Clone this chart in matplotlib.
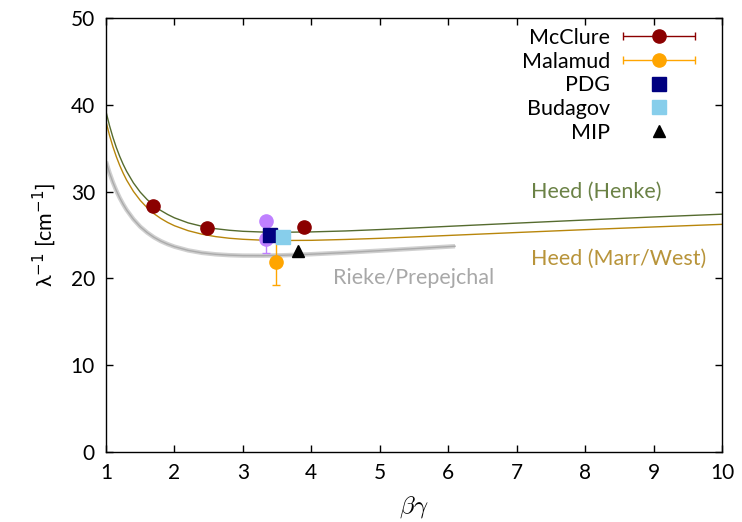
import numpy as np
import matplotlib
matplotlib.use("Agg")
import matplotlib.pyplot as plt
from matplotlib.container import ErrorbarContainer
from matplotlib.legend_handler import HandlerErrorbar

plt.rcParams['font.family'] = ['Lato', 'DejaVu Sans']
plt.rcParams['font.size'] = 15.5

# Heed curves
heed_x = [1.0, 1.05, 1.1, 1.15, 1.2, 1.25, 1.3, 1.4, 1.5, 1.6, 1.7, 1.8, 1.9, 2.0,
          2.2, 2.4, 2.6, 2.8, 3.0, 3.3, 3.6, 4.0, 4.5, 5.0, 5.5, 6.0, 7.0, 8.0, 9.0, 10.0]
henke_y = [39.20, 37.63, 36.27, 35.09, 34.06, 33.15, 32.35, 31.01, 29.94, 29.09,
           28.40, 27.83, 27.37, 26.98, 26.40, 26.01, 25.73, 25.55, 25.43, 25.34,
           25.32, 25.36, 25.47, 25.63, 25.81, 26.00, 26.37, 26.73, 27.08, 27.40]
marr_y = [38.05, 36.51, 35.19, 34.03, 33.02, 32.13, 31.34, 30.03, 28.99, 28.15,
          27.46, 26.91, 26.45, 26.07, 25.50, 25.10, 24.82, 24.63, 24.51, 24.40,
          24.37, 24.39, 24.49, 24.62, 24.78, 24.95, 25.29, 25.62, 25.93, 26.23]

rieke_x = [1.0, 1.05, 1.1, 1.15, 1.2, 1.25, 1.3, 1.4, 1.5, 1.6, 1.7, 1.8, 1.9, 2.0,
           2.2, 2.4, 2.6, 2.8, 3.0, 3.3, 3.6, 4.0, 4.5, 5.0, 5.5, 6.1]
rieke_y = [33.45, 32.18, 31.07, 30.12, 29.28, 28.55, 27.90, 26.82, 25.96, 25.29,
           24.74, 24.30, 23.95, 23.66, 23.23, 22.95, 22.78, 22.68, 22.63, 22.62,
           22.67, 22.79, 22.98, 23.20, 23.43, 23.71]

# measurements
mcclure_x = [1.69, 2.47, 3.89]
mcclure_y = [28.4, 25.8, 25.9]
malamud_x = [3.48]
malamud_y = [21.9]
malamud_err = [2.6]
other_x = [3.34, 3.34]
other_y = [26.6, 24.55]
other_err_lo = [0.0, 1.6]
other_err_hi = [0.0, 0.0]
pdg_x, pdg_y = [3.39], [25.0]
budagov_x, budagov_y = [3.58], [24.8]
mip_x, mip_y = [3.80], [23.15]

fig = plt.figure(figsize=(7.42, 5.22), dpi=100)
ax = fig.add_axes([0.1429, 0.134, 0.8301, 0.8315])

green = '#556b2f'
gold = '#b8860b'

ax.plot(rieke_x, rieke_y, color='#d0d0d0', lw=3.2, solid_capstyle='butt', zorder=1)
ax.plot(rieke_x, rieke_y, color='#ababab', lw=1.0, zorder=1.1)
ax.plot(heed_x, henke_y, color=green, lw=1.0, zorder=2)
ax.plot(heed_x, marr_y, color=gold, lw=1.0, zorder=2)

ax.errorbar(other_x, other_y, yerr=[other_err_lo, other_err_hi], fmt='o', ms=9.5,
            color='#bf80ff', ecolor='#bf80ff', elinewidth=1, capsize=3, zorder=3)
ax.plot(mcclure_x, mcclure_y, 'o', ms=9.5, color='#8b0000', zorder=4)
ax.errorbar(malamud_x, malamud_y, yerr=malamud_err, fmt='o', ms=9.5, color='#ffa500',
            elinewidth=1, capsize=3, zorder=4)
ax.plot(pdg_x, pdg_y, 's', ms=9.5, color='#000080', zorder=5)
ax.plot(budagov_x, budagov_y, 's', ms=9.5, color='#87ceeb', zorder=6)
ax.plot(mip_x, mip_y, '^', ms=9, color='black', zorder=6)

# legend proxies
h1 = ax.errorbar([np.nan], [np.nan], xerr=[1], fmt='o', ms=9.5, color='#8b0000',
                 elinewidth=1, capsize=3)
h2 = ax.errorbar([np.nan], [np.nan], xerr=[1], fmt='o', ms=9.5, color='#ffa500',
                 elinewidth=1, capsize=3)
h3, = ax.plot([np.nan], [np.nan], 's', ms=9.5, color='#000080')
h4, = ax.plot([np.nan], [np.nan], 's', ms=9.5, color='#87ceeb')
h5, = ax.plot([np.nan], [np.nan], '^', ms=9, color='black')
ax.legend([h1, h2, h3, h4, h5], ['McClure', 'Malamud', 'PDG', 'Budagov', 'MIP'],
          loc='upper right', bbox_to_anchor=(0.956, 0.977), markerfirst=False,
          frameon=False, handlelength=3.35, handletextpad=0.6, labelspacing=0.17,
          borderpad=0, borderaxespad=0, fontsize=15.5,
          handler_map={ErrorbarContainer: HandlerErrorbar(xerr_size=1.68)})

ax.text(7.21, 30.0, 'Heed (Henke)', color='#6b8246', fontsize=15.5, va='center')
ax.text(7.21, 22.2, 'Heed (Marr/West)', color='#b8943a', fontsize=15.5, va='center')
ax.text(4.32, 20.0, 'Rieke/Prepejchal', color='#a8a8a8', fontsize=15.5, va='center')

ax.set_xlim(1, 10)
ax.set_ylim(0, 50)
ax.set_xticks(range(1, 11))
ax.set_yticks(range(0, 51, 10))
ax.tick_params(direction='in', top=True, right=True, length=5, width=1, pad=8,
               labelsize=15)
for s in ax.spines.values():
    s.set_linewidth(1)

ax.set_xlabel(r'$\beta\gamma$', math_fontfamily='cm', fontsize=18, labelpad=8)
ax.set_ylabel(r'λ$^{-1}$ [cm$^{-1}$]', math_fontfamily='dejavusans', fontsize=15.5,
              labelpad=9)

fig.savefig('out.png', dpi=100)
